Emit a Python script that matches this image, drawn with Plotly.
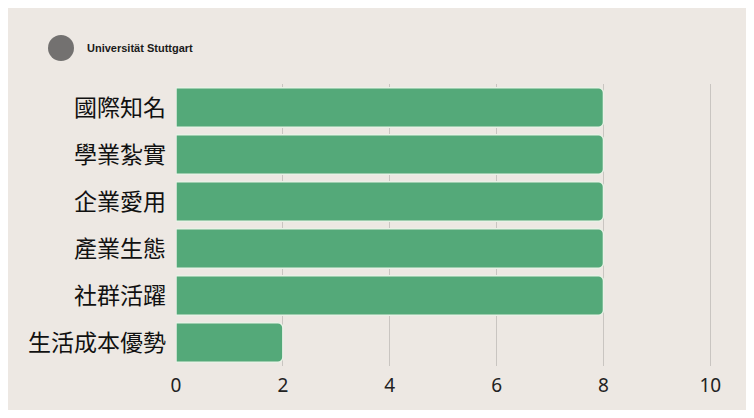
import plotly.graph_objects as go

categories = ["國際知名", "學業紮實", "企業愛用", "產業生態", "社群活躍", "生活成本優勢"]
values = [8, 8, 8, 8, 8, 2]
tick_vals = [0, 2, 4, 6, 8, 10]
tick_text = ["0", "2", "4", "6", "8", "10"]
x_max = 10.2

W, H = 754, 418
ml, mt, mb = 176, 84, 52
mr = W - ml - round(534 * x_max / 10)
pw, ph = W - ml - mr, H - mt - mb

def px2paper_x(px):
    return (px - ml) / pw

def py2paper_y(py):
    return (H - mb - py) / ph

fig = go.Figure(go.Bar(
    x=values, y=categories, orientation="h",
    width=0.84,
    marker=dict(color="#54a979", line=dict(color="#e9f1e6", width=1.5), cornerradius=5),
    hoverinfo="skip",
))

shapes = [
    dict(type="rect", xref="paper", yref="paper",
         x0=px2paper_x(8), x1=px2paper_x(746), y0=py2paper_y(410), y1=py2paper_y(8),
         fillcolor="#ede8e3", line=dict(width=0), layer="below"),
    dict(type="circle", xref="paper", yref="paper",
         x0=px2paper_x(48), x1=px2paper_x(74), y0=py2paper_y(61), y1=py2paper_y(35),
         fillcolor="#4a4a4a", line=dict(width=0), opacity=0.75),
]

fig.update_layout(
    width=W, height=H,
    margin=dict(l=ml, r=mr, t=mt, b=mb),
    paper_bgcolor="white",
    plot_bgcolor="rgba(0,0,0,0)",
    showlegend=False,
    shapes=shapes,
    font=dict(family="Noto Sans CJK TC, Noto Sans, sans-serif", color="#1a1a1a"),
    annotations=[dict(
        text="<b>Universität Stuttgart</b>", xref="paper", yref="paper",
        x=px2paper_x(85), y=py2paper_y(48), xanchor="left", yanchor="middle",
        showarrow=False, font=dict(family="Liberation Sans, Arial, sans-serif", size=11, color="#1a1a1a"),
    )],
    xaxis=dict(
        range=[0, x_max], tickvals=tick_vals, ticktext=tick_text,
        showgrid=True, gridcolor="#c9c5c1", gridwidth=1,
        zeroline=False, showline=False, ticks="",
        tickfont=dict(size=19, family="Noto Sans, sans-serif", color="#222"),
        ticklabelstandoff=6,
    ),
    yaxis=dict(
        autorange="reversed", showgrid=False, zeroline=False, showline=False,
        tickfont=dict(size=23, color="#111"), ticklabelstandoff=9,
    ),
)

fig.write_html("out.html")
